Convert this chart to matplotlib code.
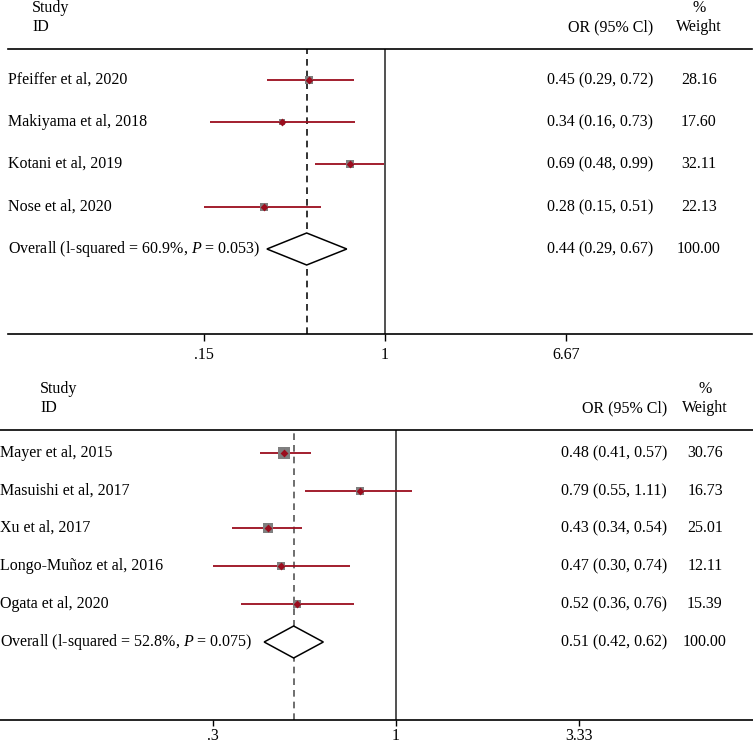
import numpy as np
import matplotlib.pyplot as plt

plt.rcParams['font.family'] = 'Liberation Serif'
plt.rcParams['mathtext.fontset'] = 'custom'
plt.rcParams['mathtext.rm'] = 'Liberation Serif'
plt.rcParams['mathtext.it'] = 'Liberation Serif:italic'

# panel 1
studies_a = ['Pfeiffer et al, 2020', 'Makiyama et al, 2018', 'Kotani et al, 2019', 'Nose et al, 2020']
or_a = [0.45, 0.34, 0.69, 0.28]
lo_a = [0.29, 0.16, 0.48, 0.15]
hi_a = [0.72, 0.73, 0.99, 0.51]
w_a = [28.16, 17.60, 32.11, 22.13]
overall_a = (0.44, 0.29, 0.67)
overall_lab_a = 'Overall (l-squared = 60.9%, $P$ = 0.053)'
ticks_a = [0.15, 1, 6.67]
ticklabels_a = ['.15', '1', '6.67']

# panel 2
studies_b = ['Mayer et al, 2015', 'Masuishi et al, 2017', 'Xu et al, 2017',
             'Longo-Muñoz et al, 2016', 'Ogata et al, 2020']
or_b = [0.48, 0.79, 0.43, 0.47, 0.52]
lo_b = [0.41, 0.55, 0.34, 0.30, 0.36]
hi_b = [0.57, 1.11, 0.54, 0.74, 0.76]
w_b = [30.76, 16.73, 25.01, 12.11, 15.39]
overall_b = (0.51, 0.42, 0.62)
overall_lab_b = 'Overall (l-squared = 52.8%, $P$ = 0.075)'
ticks_b = [0.3, 1, 3.33]
ticklabels_b = ['.3', '1', '3.33']

W, H = 753, 744
RED = '#9b0d1e'
FS = 11.5


def txt(x, y, s, ha='left'):
    fig.text(x / W, 1 - y / H, s, fontsize=FS, va='center', ha=ha)


def forest(x0, x1, ytop, ybot, xlim, rows, overall_y, studies, ors, los, his, ws, overall, overall_lab,
           ticks, ticklabels, or_x, wt_x, name_x, dash_col, sq_scale, tick_len, tick_pad):
    ax = fig.add_axes([x0 / W, 1 - ybot / H, (x1 - x0) / W, (ybot - ytop) / H])
    ax.set_xscale('log')
    ax.set_xlim(*xlim)
    ax.set_ylim(ybot, ytop)
    for s in ['left', 'right']:
        ax.spines[s].set_visible(False)
    ax.spines['top'].set_linewidth(1.2)
    ax.spines['bottom'].set_linewidth(1.2)
    ax.set_yticks([])
    ax.set_xticks(ticks)
    ax.set_xticklabels(ticklabels, fontsize=FS)
    ax.xaxis.set_minor_locator(plt.NullLocator())
    ax.tick_params(axis='x', length=tick_len, width=1, pad=tick_pad)

    ax.axvline(1, color='#333333', lw=1.2)
    ax.axvline(overall[0], color=dash_col, lw=1.2, ls=(0, (4, 3)))

    for i, (nm, o, lo, hi, w) in enumerate(zip(studies, ors, los, his, ws)):
        y = rows[i]
        ax.plot([lo, hi], [y, y], color=RED, lw=1.3, solid_capstyle='butt')
        ax.scatter([o], [y], marker='s', s=sq_scale * w, color='#7f7f7f', zorder=3, lw=0)
        ax.scatter([o], [y], marker='D', s=16, color=RED, zorder=4, lw=0)
        txt(name_x, y, nm)
        txt(or_x, y, '%.2f (%.2f, %.2f)' % (o, lo, hi), ha='right')
        txt(wt_x, y, '%.2f' % w, ha='center')

    # pooled estimate diamond
    o, lo, hi = overall
    dh = 16
    ax.fill([lo, o, hi, o, lo], [overall_y, overall_y - dh, overall_y, overall_y + dh, overall_y],
            facecolor='white', edgecolor='black', lw=1.1, zorder=3)
    txt(name_x, overall_y, overall_lab)
    txt(or_x, overall_y, '%.2f (%.2f, %.2f)' % overall, ha='right')
    txt(wt_x, overall_y, '100.00', ha='center')
    return ax


fig = plt.figure(figsize=(W / 100, H / 100), dpi=100)

# top panel
c1, k1 = 385, 95.4
xlim_a = (np.exp((8 - c1) / k1), np.exp((752 - c1) / k1))
forest(8, 752, 49, 334, xlim_a, [80, 122, 164, 207], 249, studies_a, or_a, lo_a, hi_a, w_a,
       overall_a, overall_lab_a, ticks_a, ticklabels_a, 653, 699, 8, '#111111', 1.3, 5, 4)
txt(32, 8, 'Study')
txt(32, 27, 'ID')
txt(653, 27, 'OR (95% Cl)', ha='right')
txt(699, 8, '%', ha='center')
txt(699, 27, 'Weight', ha='center')

# bottom panel
c2, k2 = 396, 152
xlim_b = (np.exp((0 - c2) / k2), np.exp((753 - c2) / k2))
forest(0, 753, 430, 720, xlim_b, [453, 491, 528, 566, 604], 642, studies_b, or_b, lo_b, hi_b, w_b,
       overall_b, overall_lab_b, ticks_b, ticklabels_b, 667, 705, 0, '#555555', 2.3, 4.5, 1.5)
txt(40, 389, 'Study')
txt(40, 408, 'ID')
txt(667, 408, 'OR (95% Cl)', ha='right')
txt(705, 389, '%', ha='center')
txt(705, 408, 'Weight', ha='center')

fig.savefig('out.png', dpi=100)
